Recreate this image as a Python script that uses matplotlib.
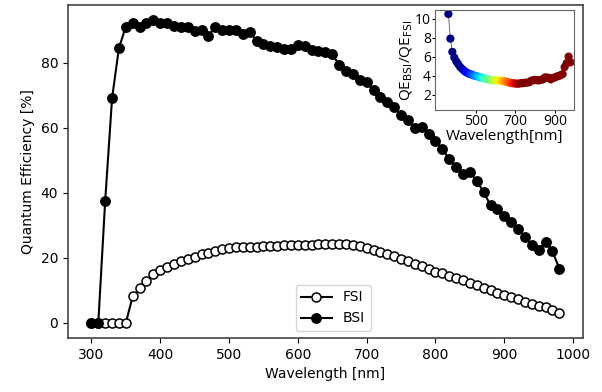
import numpy as np
import matplotlib
matplotlib.use("Agg")
import matplotlib.pyplot as plt
from matplotlib import cm, colors

# dados (passo de 10 nm)
wavelength = np.arange(300, 990, 10)

qe_fsi = [0, 0, 0, 0, 0, 0, 8.1, 10.6, 12.9, 15.0,
          16.2, 17.2, 18.2, 19.1, 19.6, 20.3, 21.0, 21.5, 22.1, 22.6,
          22.9, 23.2, 23.4, 23.4, 23.4, 23.5, 23.6, 23.7, 23.8, 23.9,
          23.9, 24.0, 24.0, 24.1, 24.1, 24.2, 24.3, 24.2, 23.9, 23.5,
          23.0, 22.4, 21.8, 21.1, 20.4, 19.7, 19.0, 18.2, 17.3, 16.4,
          15.7, 15.2, 14.4, 13.7, 13.0, 12.2, 11.5, 10.6, 10.1, 9.3,
          8.6, 7.9, 7.3, 6.5, 5.8, 5.2, 4.7, 4.0, 2.9]

qe_bsi = [0, 0, 37.5, 69.0, 84.5, 91.0, 92.0, 90.8, 92.0, 93.0,
          92.3, 92.0, 91.3, 90.8, 90.8, 89.8, 90.0, 88.2, 91.0, 90.0,
          90.0, 90.0, 88.7, 89.3, 86.7, 85.7, 85.0, 84.8, 84.2, 84.1,
          85.5, 85.1, 83.9, 83.6, 83.1, 82.5, 79.3, 77.5, 76.5, 74.6,
          73.9, 71.4, 69.5, 67.8, 66.3, 64.0, 62.2, 59.9, 60.3, 57.9,
          56.0, 53.5, 50.3, 48.0, 45.8, 46.3, 43.6, 40.2, 36.1, 35.1,
          32.8, 31.0, 28.7, 26.4, 23.9, 22.4, 24.9, 22.0, 16.6]

# inset: razao QE_BSI / QE_FSI
wl_ratio = np.arange(360, 990, 10)
ratio = [10.5, 7.9, 6.5, 5.9, 5.5, 5.2, 4.9, 4.7, 4.5, 4.35,
         4.25, 4.15, 4.1, 4.0, 3.95, 3.9, 3.8, 3.8, 3.7, 3.65,
         3.6, 3.55, 3.5, 3.5, 3.5, 3.5, 3.45, 3.45, 3.4, 3.4,
         3.3, 3.25, 3.2, 3.2, 3.15, 3.15, 3.15, 3.2, 3.2, 3.25,
         3.25, 3.3, 3.45, 3.5, 3.55, 3.5, 3.5, 3.55, 3.6, 3.8,
         3.8, 3.75, 3.6, 3.75, 3.8, 3.9, 3.95, 4.05, 4.15, 4.9,
         5.3, 6.0, 5.4]

fig = plt.figure(figsize=(6.02, 3.92), dpi=100)
ax = fig.add_axes([0.113, 0.138, 0.855, 0.849])

ax.plot(wavelength, qe_fsi, '-o', color='black', lw=1.5, ms=6.5,
        mfc='white', mec='black', mew=1.1, label='FSI')
ax.plot(wavelength, qe_bsi, '-o', color='black', lw=1.5, ms=6.8,
        label='BSI')

ax.set_xticks(np.arange(300, 1001, 100))
ax.set_yticks([0, 20, 40, 60, 80])
ax.set_xlabel('Wavelength [nm]', fontsize=10)
ax.set_ylabel('Quantum Efficiency [%]', fontsize=10)
ax.tick_params(labelsize=10)
for s in ax.spines.values():
    s.set_color('#444444')
    s.set_linewidth(1.2)

ax.legend(loc='lower center', bbox_to_anchor=(0.515, 0.0), fontsize=10,
          handlelength=2.2)

# inset
axin = fig.add_axes([0.7226, 0.719, 0.231, 0.255])
norm = colors.Normalize(vmin=420, vmax=725, clip=True)
axin.plot(wl_ratio, ratio, '-', color='#555555', lw=0.6, zorder=1)
axin.scatter(wl_ratio, ratio, c=cm.jet(norm(wl_ratio)), s=24, zorder=2)
axin.set_xlim(292, 998)
axin.set_ylim(0.35, 10.9)
axin.set_xticks([500, 700, 900])
axin.set_yticks([2, 4, 6, 8, 10])
infont = ['Open Sans', 'DejaVu Sans']
axin.set_xlabel('Wavelength[nm]', fontsize=11, family=infont, labelpad=0)
axin.set_ylabel(r'QE$_{\rm BSI}$/QE$_{\rm FSI}$', fontsize=11,
                family=infont, labelpad=0)
axin.tick_params(labelsize=10, length=2, pad=1)
for lab in axin.get_xticklabels() + axin.get_yticklabels():
    lab.set_family(infont)
for s in axin.spines.values():
    s.set_color('#666666')
    s.set_linewidth(0.8)

fig.savefig('out.png', dpi=100)
